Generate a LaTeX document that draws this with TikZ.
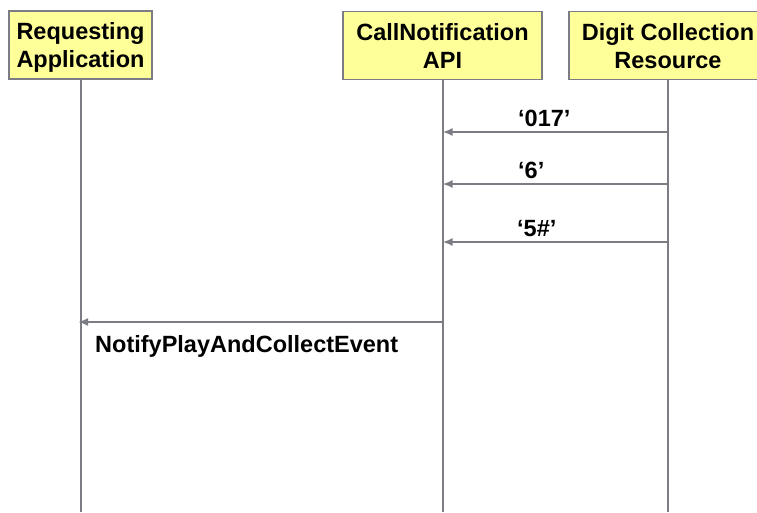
\documentclass[tikz,border=0pt]{standalone}
\usepackage{fontspec}
\setmainfont{Liberation Sans}
\usetikzlibrary{positioning,arrows.meta}
\definecolor{box-yellow}{RGB}{255,255,153}
\definecolor{line-gray}{RGB}{124,124,132}
\tikzset{
  entity/.style={draw=line-gray, line width=1.2pt, fill=box-yellow, align=center,
    font=\fontsize{23.5}{28}\selectfont\bfseries, minimum height=68pt, inner sep=0pt,
    text depth=0pt},
  lifeline/.style={draw=line-gray, line width=2pt},
  msg/.style={draw=line-gray, line width=2.4pt, -{Latex[length=10pt,width=8pt]}},
  msglabel/.style={font=\fontsize{23.5}{28}\selectfont\bfseries, inner sep=0pt, anchor=base west},
}
\begin{document}
\begin{tikzpicture}[x=1pt,y=-1pt]
  \useasboundingbox (0,0) rectangle (757,512);

  % Entities
  \node[entity, minimum width=143pt] (req) at (80.5,45) {Requesting\\Application};
  \node[entity, minimum width=199pt] (api) at (442.5,45.5) {CallNotification\\API};
  \node[entity, minimum width=198pt] (res) at (668,45.5) {Digit Collection\\Resource};

  % Lifelines
  \coordinate (reqEnd) at (80.5,512);
  \coordinate (apiEnd) at (442.5,512);
  \coordinate (resEnd) at (668,512);
  \draw[lifeline] (req) -- (reqEnd);
  \draw[lifeline] (api) -- (apiEnd);
  \draw[lifeline] (res) -- (resEnd);

  % Digits coming in
  \coordinate (res1) at (668,132);
  \coordinate (api1) at (442.5,132);
  \draw[msg] (res1) -- (api1);
  \node[msglabel] (d1) at (518,126) {‘017’};

  \coordinate (res2) at (668,184);
  \coordinate (api2) at (442.5,184);
  \draw[msg] (res2) -- (api2);
  \node[msglabel] (d2) at (518,178) {‘6’};

  \coordinate (res3) at (668,242);
  \coordinate (api3) at (442.5,242);
  \draw[msg] (res3) -- (api3);
  \node[msglabel] (d3) at (517,236) {‘5\#’};

  % Notification to the application
  \coordinate (api4) at (442.5,322);
  \coordinate (req4) at (78,322);
  \draw[msg] (api4) -- (req4);
  \node[msglabel] (ev) at (95,352) {NotifyPlayAndCollectEvent};
\end{tikzpicture}
\end{document}
